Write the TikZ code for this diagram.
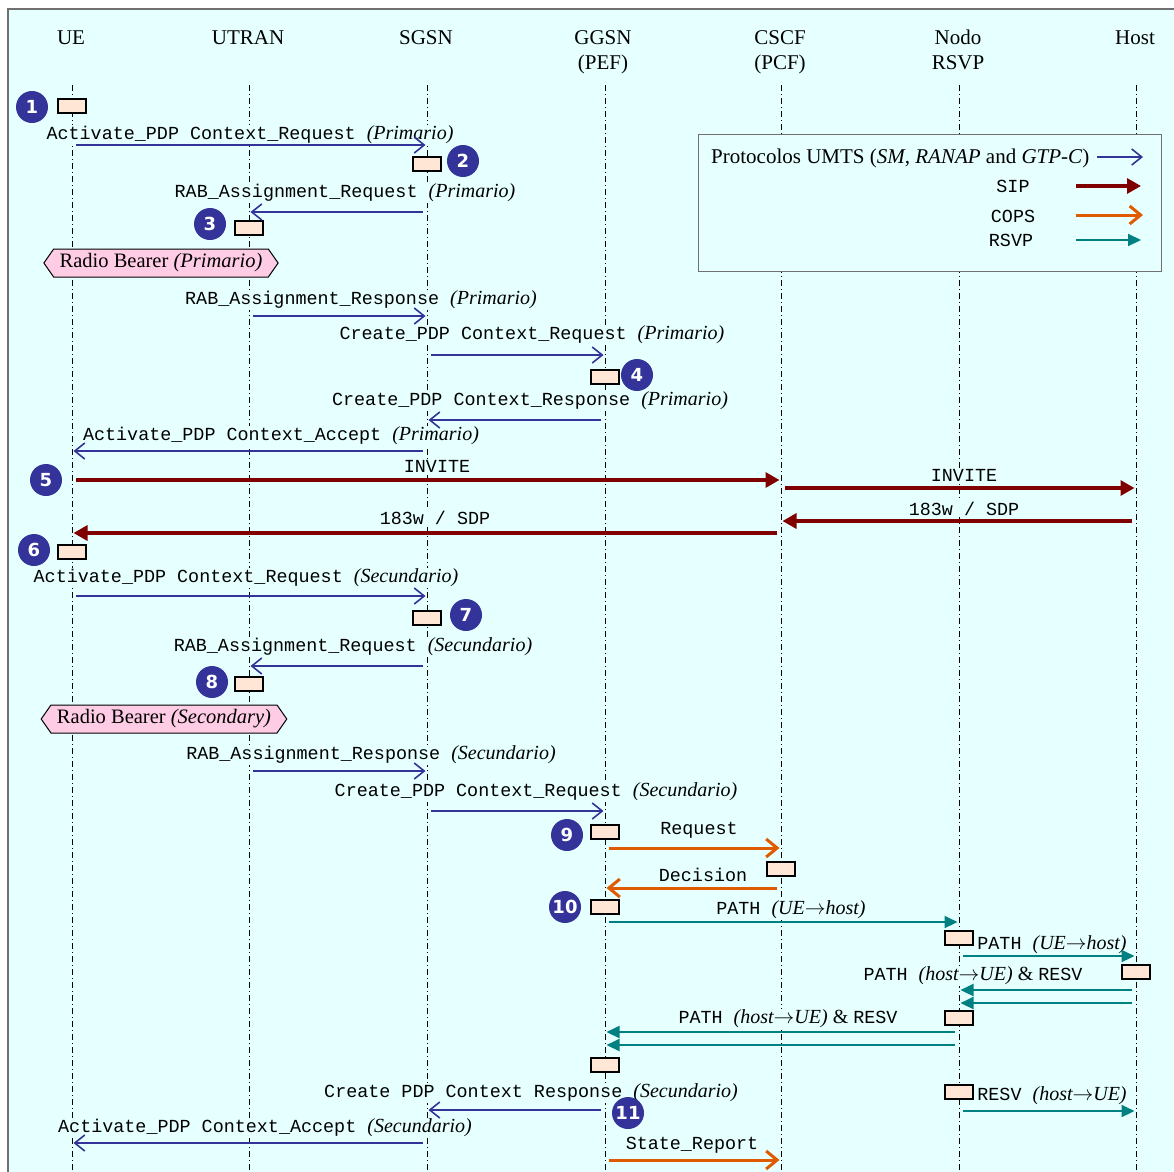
\documentclass[tikz,border=0pt]{standalone}
\usepackage{fontspec}
\setmainfont{Liberation Serif}
\setmonofont{Liberation Mono}
\newfontfamily\numfont{DejaVu Sans}
\usetikzlibrary{arrows.meta,shapes.symbols}
\definecolor{bgc}{HTML}{E6FFFF}
\definecolor{framec}{HTML}{707070}
\definecolor{umtsc}{HTML}{333399}
\definecolor{sipc}{HTML}{800000}
\definecolor{copsc}{HTML}{E05A00}
\definecolor{rsvpc}{HTML}{008080}
\definecolor{actc}{HTML}{FFE6D5}
\definecolor{pinkc}{HTML}{FFCCE5}
\newcommand\paren[1]{{\fontsize{20}{22}\selectfont\rmfamily\itshape(#1)}}
\newcommand\rmamp{{\fontsize{20}{22}\selectfont\rmfamily\ \&\ }}
\tikzset{
  hdr/.style={font=\fontsize{21}{25}\selectfont, align=center, inner sep=1pt},
  lifeline/.style={black, line width=0.9pt, dash pattern=on 6pt off 3pt on 1pt off 3pt},
  lbl/.style={font=\fontsize{18.4}{20}\selectfont\ttfamily, fill=bgc, inner sep=1pt},
  act/.style={draw=black, fill=actc, line width=1.6pt, minimum width=28pt, minimum height=14pt, inner sep=0pt},
  num/.style={circle, fill=umtsc, text=white, minimum size=32pt, inner sep=0pt, font=\fontsize{18}{18}\selectfont\numfont\bfseries},
  rb/.style={shape=signal, signal to=west and east, signal pointer angle=110, draw=black, fill=pinkc, line width=1pt, inner xsep=6pt, inner ysep=3pt, minimum height=28pt, font=\fontsize{20.5}{22}\selectfont},
  umts/.style={draw=umtsc, line width=1.6pt, -{Straight Barb[length=10pt,width=16pt]}},
  sip/.style={draw=sipc, line width=3.2pt, -{Triangle[length=14pt,width=15pt]}},
  cops/.style={draw=copsc, line width=3pt, -{Straight Barb[length=11pt,width=18pt]}},
  rsvp/.style={draw=rsvpc, line width=2pt, -{Triangle[length=13pt,width=12pt]}},
  msg/.style={shorten <=4pt, shorten >=1.5pt}
}
\begin{document}
\begin{tikzpicture}[x=1pt,y=-1pt]
\path[use as bounding box, fill=white] (0,0) rectangle (1174,1171);
\draw[fill=bgc, draw=framec, line width=2pt] (8,9) rectangle (1200,1200);

% headers
\node[hdr] (hUE) at (71,38) {UE};
\node[hdr] (hUTRAN) at (248,38) {UTRAN};
\node[hdr] (hSGSN) at (426,38) {SGSN};
\node[hdr] (hGGSN) at (603,52) {GGSN\\(PEF)};
\node[hdr] (hCSCF) at (780,52) {CSCF\\(PCF)};
\node[hdr] (hNODO) at (958,50) {Nodo\\RSVP};
\node[hdr] (hHOST) at (1135,38) {Host};

% lifelines
\coordinate (UE) at (72,85);
\coordinate (UTRAN) at (249,85);
\coordinate (SGSN) at (427,85);
\coordinate (GGSN) at (605,85);
\coordinate (CSCF) at (781,85);
\coordinate (NODO) at (959,85);
\coordinate (HOST) at (1136,85);
\foreach \l in {UE,UTRAN,SGSN,GGSN,CSCF,NODO,HOST}
  \draw[lifeline] (\l) -- (\l |- 0,1180);

% legend
\node[draw=framec, fill=bgc, line width=1.2pt, minimum width=463pt, minimum height=137pt, anchor=north west, inner sep=0pt] (legend) at (698,134) {};
\node[anchor=west, font=\fontsize{21}{25}\selectfont, inner sep=0pt] (lg1) at (711,158) {Protocolos UMTS (\textit{SM}, \textit{RANAP} and \textit{GTP-C})};
\node[font=\fontsize{18.4}{20}\selectfont\ttfamily, inner sep=0pt] (lg2) at (1013,186) {SIP};
\node[font=\fontsize{18.4}{20}\selectfont\ttfamily, inner sep=0pt] (lg3) at (1013,216) {COPS};
\node[font=\fontsize{18.4}{20}\selectfont\ttfamily, inner sep=0pt] (lg4) at (1011,240) {RSVP};
\coordinate (la1) at (1097,157); \coordinate (lb1) at (1143,157);
\coordinate (la2) at (1076,186); \coordinate (lb2) at (1141,186);
\coordinate (la3) at (1076,215); \coordinate (lb3) at (1143,215);
\coordinate (la4) at (1076,240); \coordinate (lb4) at (1141,240);
\draw[umts] (la1) -- (lb1);
\draw[sip] (la2) -- (lb2);
\draw[cops] (la3) -- (lb3);
\draw[rsvp] (la4) -- (lb4);

% message labels
\node[lbl] (t1) at (250,135) {Activate\_PDP Context\_Request \paren{Primario}};
\node[lbl] (t2) at (345,193) {RAB\_Assignment\_Request \paren{Primario}};
\node[lbl] (t3) at (361,300) {RAB\_Assignment\_Response \paren{Primario}};
\node[lbl] (t4) at (532,335) {Create\_PDP Context\_Request \paren{Primario}};
\node[lbl] (t5) at (530,401) {Create\_PDP Context\_Response \paren{Primario}};
\node[lbl] (t6) at (281,436) {Activate\_PDP Context\_Accept \paren{Primario}};
\node[lbl] (t7) at (437,466) {INVITE};
\node[lbl] (t8) at (964,475) {INVITE};
\node[lbl] (t9) at (964,509) {183w / SDP};
\node[lbl] (t10) at (435,518) {183w / SDP};
\node[lbl] (t11) at (246,578) {Activate\_PDP Context\_Request \paren{Secundario}};
\node[lbl] (t12) at (353,647) {RAB\_Assignment\_Request \paren{Secundario}};
\node[lbl] (t13) at (371,755) {RAB\_Assignment\_Response \paren{Secundario}};
\node[lbl] (t14) at (536,792) {Create\_PDP Context\_Request \paren{Secundario}};
\node[lbl] (t15) at (699,830) {Request};
\node[lbl] (t16) at (703,875) {Decision};
\node[lbl] (t17) at (791,910) {PATH \paren{UE$\rightarrow$host}};
\node[lbl] (t18) at (1052,945) {PATH \paren{UE$\rightarrow$host}};
\node[lbl] (t19) at (973,976) {PATH \paren{host$\rightarrow$UE}\rmamp RESV};
\node[lbl] (t20) at (788,1019) {PATH \paren{host$\rightarrow$UE}\rmamp RESV};
\node[lbl] (t21) at (531,1093) {Create PDP Context Response \paren{Secundario}};
\node[lbl] (t22) at (1052,1096) {RESV \paren{host$\rightarrow$UE}};
\node[lbl] (t23) at (265,1128) {Activate\_PDP Context\_Accept \paren{Secundario}};
\node[lbl] (t24) at (692,1145) {State\_Report};

% radio bearers
\node[rb] (rb1) at (161,263) {Radio Bearer \textit{(Primario)}};
\node[rb] (rb2) at (164,719) {Radio Bearer \textit{(Secondary)}};

% activation boxes
\node[act] (b1) at (UE |- 0,106) {};
\node[act] (b2) at (SGSN |- 0,164) {};
\node[act] (b3) at (UTRAN |- 0,228) {};
\node[act] (b4) at (GGSN |- 0,377) {};
\node[act] (b5) at (UE |- 0,552) {};
\node[act] (b6) at (SGSN |- 0,618) {};
\node[act] (b7) at (UTRAN |- 0,684) {};
\node[act] (b8) at (GGSN |- 0,832) {};
\node[act] (b9) at (CSCF |- 0,869) {};
\node[act] (b10) at (GGSN |- 0,907) {};
\node[act] (b11) at (NODO |- 0,938) {};
\node[act] (b12) at (HOST |- 0,972) {};
\node[act] (b13) at (NODO |- 0,1018) {};
\node[act] (b14) at (GGSN |- 0,1065) {};
\node[act] (b15) at (NODO |- 0,1092) {};

% step numbers
\node[num] (n1) at (32,107) {1};
\node[num] (n2) at (463,161) {2};
\node[num] (n3) at (210,224) {3};
\node[num] (n4) at (637,375) {4};
\node[num] (n5) at (46,480) {5};
\node[num] (n6) at (34,550) {6};
\node[num] (n7) at (466,615) {7};
\node[num] (n8) at (212,682) {8};
\node[num] (n9) at (567,835) {9};
\node[num] (n10) at (565,907) {10};
\node[num] (n11) at (628,1113) {11};

% messages
\draw[umts,msg] (UE |- 0,145) -- (SGSN |- 0,145);
\draw[umts,msg] (SGSN |- 0,212) -- (UTRAN |- 0,212);
\draw[umts,msg] (UTRAN |- 0,316) -- (SGSN |- 0,316);
\draw[umts,msg] (SGSN |- 0,355) -- (GGSN |- 0,355);
\draw[umts,msg] (GGSN |- 0,420) -- (SGSN |- 0,420);
\draw[umts,msg] (SGSN |- 0,451) -- (UE |- 0,451);
\draw[sip,msg] (UE |- 0,480) -- (CSCF |- 0,480);
\draw[sip,msg] (CSCF |- 0,488) -- (HOST |- 0,488);
\draw[sip,msg] (HOST |- 0,521) -- (CSCF |- 0,521);
\draw[sip,msg] (CSCF |- 0,533) -- (UE |- 0,533);
\draw[umts,msg] (UE |- 0,596) -- (SGSN |- 0,596);
\draw[umts,msg] (SGSN |- 0,666) -- (UTRAN |- 0,666);
\draw[umts,msg] (UTRAN |- 0,771) -- (SGSN |- 0,771);
\draw[umts,msg] (SGSN |- 0,811) -- (GGSN |- 0,811);
\draw[cops,msg] (GGSN |- 0,848) -- (CSCF |- 0,848);
\draw[cops,msg] (CSCF |- 0,888) -- (GGSN |- 0,888);
\draw[rsvp,msg] (GGSN |- 0,922) -- (NODO |- 0,922);
\draw[rsvp,msg] (NODO |- 0,956) -- (HOST |- 0,956);
\draw[rsvp,msg] (HOST |- 0,990) -- (NODO |- 0,990);
\draw[rsvp,msg] (HOST |- 0,1003) -- (NODO |- 0,1003);
\draw[rsvp,msg] (NODO |- 0,1032) -- (GGSN |- 0,1032);
\draw[rsvp,msg] (NODO |- 0,1045) -- (GGSN |- 0,1045);
\draw[umts,msg] (GGSN |- 0,1110) -- (SGSN |- 0,1110);
\draw[rsvp,msg] (NODO |- 0,1111) -- (HOST |- 0,1111);
\draw[umts,msg] (SGSN |- 0,1143) -- (UE |- 0,1143);
\draw[cops,msg] (GGSN |- 0,1160) -- (CSCF |- 0,1160);
\end{tikzpicture}
\end{document}
